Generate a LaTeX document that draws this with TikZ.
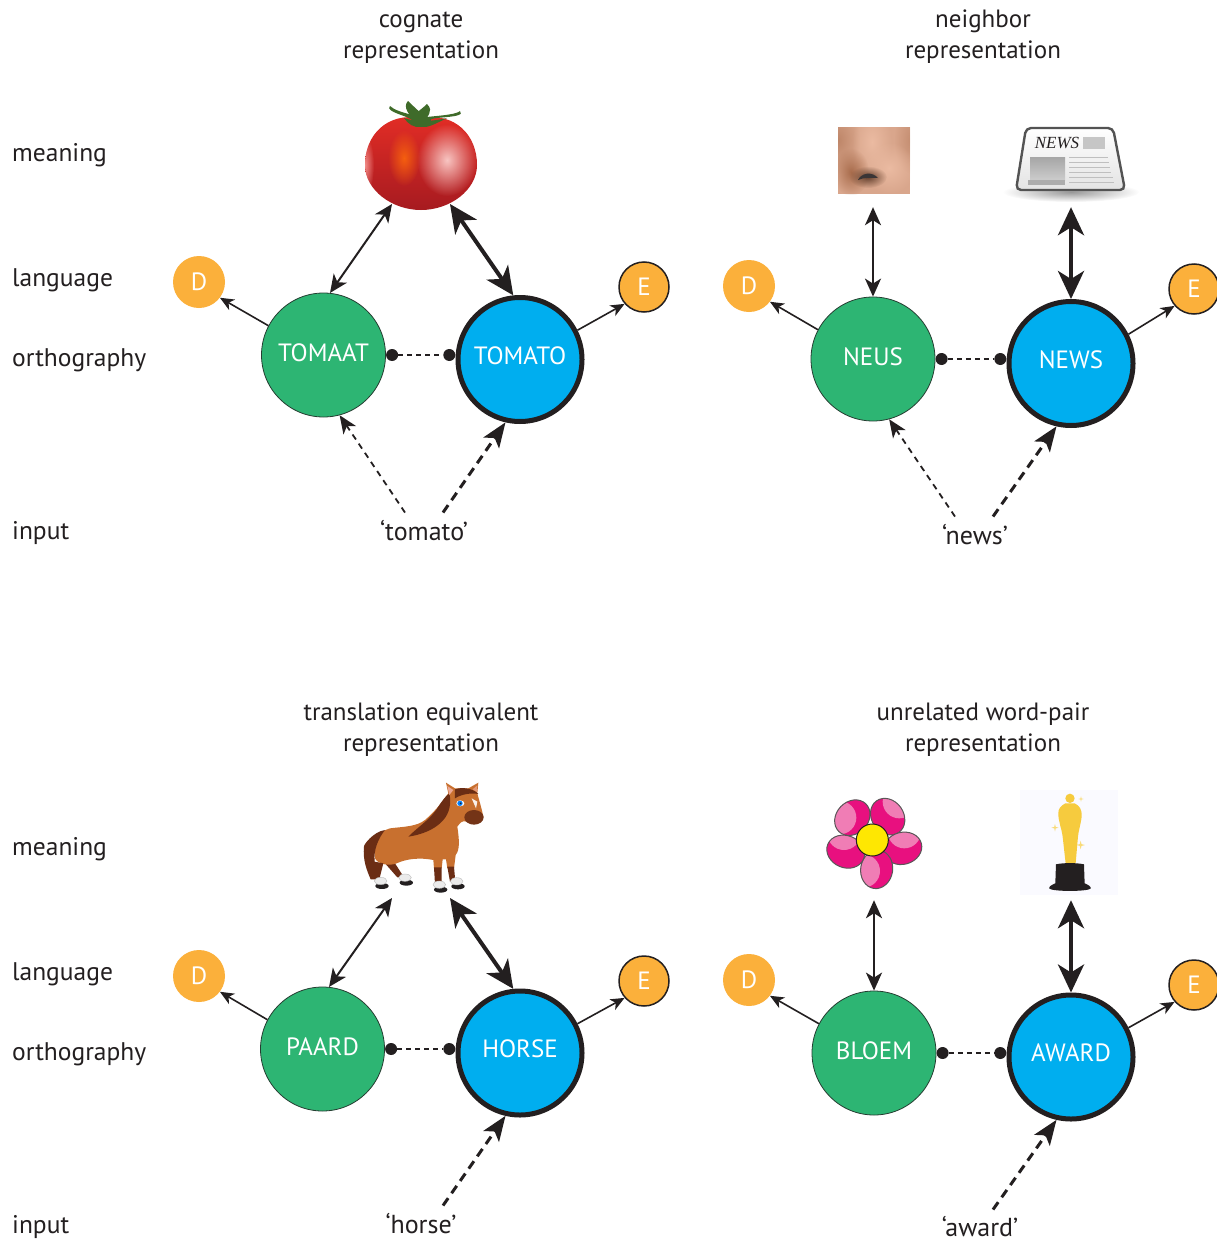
\documentclass[tikz,border=0pt]{standalone}
\usepackage{fontspec}
\setmainfont{PT Sans}
\newfontfamily\newsfont{Liberation Serif}
\usetikzlibrary{arrows.meta,shapes.geometric,calc,fadings}
\tikzfading[name=softblob,inner color=transparent!0,outer color=transparent!100]
\definecolor{wgreen}{HTML}{2DB573}
\definecolor{wblue}{HTML}{00AEEF}
\definecolor{worange}{HTML}{FBB03B}
\definecolor{ink}{HTML}{231F20}
\definecolor{tomred}{HTML}{E62E26}
\definecolor{tomdark}{HTML}{A51A20}
\definecolor{horsec}{HTML}{C8702F}
\definecolor{manec}{HTML}{6B2D14}
\definecolor{petald}{HTML}{E8107F}
\definecolor{petall}{HTML}{F07DB5}
\definecolor{gold}{HTML}{F6CB3E}
\definecolor{leafc}{HTML}{3F6B2A}
\definecolor{skinbg}{HTML}{D9A68C}
\definecolor{skinlo}{HTML}{A86C4C}
\definecolor{skinhi}{HTML}{EBBBA2}
\tikzset{
  lab/.style={font=\fontsize{25}{31}\selectfont,text=ink,inner sep=0pt},
  side/.style={lab,font=\fontsize{25.5}{31}\selectfont,anchor=west},
  title/.style={lab,align=center},
  word/.style={lab,font=\fontsize{26}{31}\selectfont},
  greennode/.style={circle,fill=wgreen,draw=ink!80!wgreen,line width=.8pt,minimum size=124pt,inner sep=0pt,text=white,text depth=5pt,font=\fontsize{25}{30}\selectfont},
  bluenode/.style={circle,fill=wblue,draw=ink,line width=5pt,minimum size=124pt,inner sep=0pt,text=white,text depth=8pt,font=\fontsize{25}{30}\selectfont},
  dnode/.style={circle,fill=worange,minimum size=52pt,inner sep=0pt,text=white,font=\fontsize{25}{30}\selectfont},
  enode/.style={circle,fill=worange,draw=ink,line width=1.5pt,minimum size=50pt,inner sep=0pt,text=white,font=\fontsize{25}{30}\selectfont},
  dotnode/.style={circle,fill=ink,minimum size=12pt,inner sep=0pt},
  blob/.style={ellipse,minimum width=112pt,minimum height=100pt,inner sep=0pt},
  imgbox/.style={rectangle,minimum width=74pt,minimum height=80pt,inner sep=0pt},
  twothin/.style={draw=ink,line width=2pt,{Stealth[length=18pt,width=16pt,inset=5pt]}-{Stealth[length=18pt,width=16pt,inset=5pt]}},
  twothick/.style={draw=ink,line width=4pt,{Stealth[length=28pt,width=26pt,inset=8pt]}-{Stealth[length=28pt,width=26pt,inset=8pt]}},
  langthin/.style={draw=ink,line width=1.6pt,-{Stealth[length=14pt,width=12pt,inset=4pt]}},
  linkdash/.style={draw=ink,line width=1.5pt,dash pattern=on 5pt off 4pt},
  inthin/.style={draw=ink,line width=1.8pt,dash pattern=on 6pt off 5pt,-{Stealth[length=18pt,width=15pt,inset=5pt]}},
  inthick/.style={draw=ink,line width=3pt,dash pattern=on 9pt off 6pt,-{Stealth[length=25pt,width=19pt,inset=6pt]}},
  soft/.style={path fading=softblob},
}
% flower petal: x, y, rotation, highlight x, highlight y
\newcommand{\flowerpetal}[5]{%
  \begin{scope}
    \clip[rotate around={#3:(#1,#2)}] (#1,#2) ellipse (58 and 48);
    \fill[petald] (#1-70,#2-70) rectangle (#1+70,#2+70);
    \fill[petall] (#1+#4,#2+#5) circle (50);
  \end{scope}
  \draw[ink!75,line width=1pt,rotate around={#3:(#1,#2)}] (#1,#2) ellipse (58 and 48);
}
% one pointed leaf of the tomato: tip x, tip y, half width
\newcommand{\tomleaf}[3]{%
  \fill[leafc] (421-#3,121) .. controls (410,116) and (#1-6,#2+6) .. (#1,#2)
     .. controls (#1+8,#2+8) and (425,116) .. (421+#3,121) -- cycle;
}
% four-pointed sparkle: x, y, size
\newcommand{\sparkle}[3]{%
  \fill[gold!70] (#1-#3,#2) -- (#1-#3*0.2,#2-#3*0.2) -- (#1,#2-#3) -- (#1+#3*0.2,#2-#3*0.2)
     -- (#1+#3,#2) -- (#1+#3*0.2,#2+#3*0.2) -- (#1,#2+#3) -- (#1-#3*0.2,#2+#3*0.2) -- cycle;
}
\begin{document}
\begin{tikzpicture}[x=1pt,y=-1pt]
\useasboundingbox[fill=white] (0,0) rectangle (1216,1239);

% side labels
\foreach \n/\t/\yy in {m1/meaning/155.5,l1/language/280.5,o1/orthography/360,i1/input/533,
                       m2/meaning/849.5,l2/language/974,o2/orthography/1054,i2/input/1227}
  \node[side] (\n) at (12,\yy) {\t};

% titles
\node[title] (t1) at (421,37.5) {cognate\\representation};
\node[title] (t2) at (983,37) {neighbor\\representation};
\node[title] (t3) at (421,730) {translation equivalent\\representation};
\node[title] (t4) at (983,730) {unrelated word-pair\\representation};

% ---------- tomato
\node[blob] (a-m) at (421,161) {};
\begin{scope}
  \clip (421,118) .. controls (455,112) and (477,135) .. (477,165)
    .. controls (477,190) and (450,210) .. (421,210)
    .. controls (392,210) and (365,190) .. (365,165)
    .. controls (365,135) and (387,112) .. (421,118) -- cycle;
  \shade[top color=tomred,middle color=tomred,bottom color=tomdark] (360,110) rectangle (480,212);
  \fill[white!72!tomred,soft] (447,160) ellipse (30 and 36);
  \fill[orange!60!tomred,soft] (404,158) ellipse (16 and 28);
  \fill[white!45!tomred,soft] (365,165) ellipse (9 and 30);
\end{scope}
\tomleaf{390}{106}{8}
\tomleaf{408}{101}{6}
\tomleaf{427}{104}{6}
\tomleaf{460}{111}{10}
\fill[leafc] (404,118) .. controls (415,122) and (430,122) .. (447,118)
  .. controls (435,124) and (428,128) .. (421,127) .. controls (414,128) and (408,124) .. (404,118) -- cycle;

% ---------- nose
\node[imgbox] (b-m) at (873,167) {};
\begin{scope}
  \clip (838,127) rectangle (910,194);
  \fill[skinbg] (838,127) rectangle (910,194);
  \fill[skinlo,opacity=.55,soft] (838,140) ellipse (22 and 34);
  \fill[skinlo,opacity=.45,soft] (912,140) ellipse (18 and 34);
  \fill[skinhi,soft] (872,142) ellipse (20 and 36);
  \fill[skinhi,soft] (889,168) ellipse (26 and 26);
  \fill[skinlo,soft] (851,172) ellipse (18 and 24);
  \fill[skinlo!60!black,soft] (868,177) ellipse (19 and 11);
  \fill[ink!90] (858,180) .. controls (861,173) and (872,171) .. (878,178)
    .. controls (872,178) and (864,177) .. (858,180) -- cycle;
\end{scope}

% ---------- newspaper
\node[imgbox] (b-n) at (1071,167) {};
\fill[gray!80,soft] (1071,192) ellipse (68 and 10);
\draw[gray!65!black,line width=2.4pt,rounded corners=5pt,top color=white,bottom color=gray!22]
  (1026,128) -- (1113,128) -- (1125,190) -- (1016,190) -- cycle;
\node[inner sep=0pt,text=ink] (b-nt) at (1057,143) {\newsfont\itshape\fontsize{17}{18}\selectfont NEWS};
\fill[gray!45] (1083,137) rectangle (1105,149);
\shade[top color=gray!70,bottom color=gray!40] (1030,157) rectangle (1065,180);
\fill[gray!65] (1028,180) rectangle (1065,185);
\foreach \yy/\xa/\xb in {157/1069/1108,162/1069/1109,167/1069/1110,172/1069/1111,177/1069/1113,182/1069/1114}
  \draw[gray!50,line width=1pt] (\xa,\yy) -- (\xb,\yy);

% ---------- horse
\node[blob] (c-m) at (421,855) {};
\begin{scope}[shift={(340,770)},x=0.3333pt,y=-0.3333pt]
  % far hind leg
  \fill[manec] (135,280) -- (165,280) -- (192,322) -- (172,322) -- cycle;
  % body
  \fill[horsec] (105,265) .. controls (100,210) and (115,185) .. (150,175)
     .. controls (190,170) and (230,170) .. (255,150)
     .. controls (290,120) and (310,90) .. (325,70) -- (318,38) -- (345,55) -- (385,55) -- (415,38) -- (412,70)
     .. controls (420,100) and (425,115) .. (430,140)
     .. controls (430,155) and (400,165) .. (380,155)
     .. controls (365,150) and (360,160) .. (352,170)
     .. controls (358,210) and (360,240) .. (347,255)
     -- (342,295) -- (322,295) -- (318,268) -- (308,268) -- (305,295) -- (282,295) -- (280,270)
     .. controls (240,262) and (200,266) .. (170,280)
     .. controls (150,288) and (115,285) .. (105,265) -- cycle;
  % tail and near hind leg
  \fill[manec] (135,180) .. controls (100,185) and (70,225) .. (72,230)
     .. controls (68,270) and (80,300) .. (92,328) -- (118,328) -- (130,280)
     -- (104,275) .. controls (100,240) and (115,205) .. (135,180) -- cycle;
  % mane and forelock
  \fill[manec] (205,200) .. controls (240,165) and (270,150) .. (295,110)
     .. controls (305,95) and (315,80) .. (328,70) .. controls (335,100) and (328,130) .. (310,150)
     .. controls (285,180) and (240,195) .. (205,200) -- cycle;
  \fill[manec] (345,58) .. controls (365,50) and (400,55) .. (415,72)
     .. controls (395,68) and (365,72) .. (345,85) -- cycle;
  % ears
  \fill[pink!70!horsec] (322,48) -- (340,60) -- (328,75) -- cycle;
  \fill[pink!50!horsec] (412,46) -- (398,58) -- (411,66) -- cycle;
  % socks
  \fill[manec] (282,292) -- (305,292) -- (305,342) -- (285,342) -- cycle;
  \fill[manec] (322,290) -- (342,290) -- (346,335) -- (330,335) -- cycle;
  % hooves
  \foreach \hx/\hy in {122/333,195/323,298/344,350/334}{
    \fill[ink] (\hx+4,\hy+15) ellipse (20 and 9);
    \fill[white!92!black] (\hx,\hy) ellipse (19 and 11);
    \draw[gray!55,line width=.4pt] (\hx,\hy) ellipse (19 and 11);
  }
  % face
  \fill[white!90!horsec] (395,85) -- (412,95) -- (408,115) -- cycle;
  \fill[manec!90!horsec] (402,142) ellipse (29 and 22);
  \fill[white] (361,100) ellipse (12 and 9);
  \fill[blue!50!cyan] (360,100) ellipse (8 and 8);
  \fill[ink] (362,100) circle (3);
\end{scope}

% ---------- flower
\node[imgbox] (d-m) at (874,860) {};
\begin{scope}[shift={(810,780)},x=0.3333pt,y=-0.3333pt]
  \flowerpetal{127}{113}{46}{-38}{0}
  \flowerpetal{233}{110}{-55}{35}{-45}
  \flowerpetal{278}{205}{15}{5}{-50}
  \flowerpetal{200}{268}{82}{-40}{5}
  \flowerpetal{107}{215}{-23}{-5}{-55}
  \fill[yellow!90!orange] (187,180) circle (48);
  \draw[ink,line width=1pt] (187,180) circle (48);
\end{scope}

% ---------- award
\node[imgbox] (d-n) at (1071,860) {};
\begin{scope}[shift={(810,780)},x=0.3333pt,y=-0.3333pt]
  \fill[blue!2] (630,30) rectangle (925,345);
  \sparkle{735}{143}{11}
  \sparkle{813}{57}{8}
  \sparkle{812}{195}{13}
  \fill[gold] (780,55) circle (14);
  \fill[gold] (766,70) -- (794,70) .. controls (808,78) and (816,85) .. (815,110)
     .. controls (812,135) and (806,150) .. (804,170) -- (797,250) -- (767,250) -- (758,170)
     .. controls (755,145) and (745,125) .. (745,100) .. controls (745,85) and (752,78) .. (766,70) -- cycle;
  \fill[ink] (738,253) .. controls (760,248) and (800,248) .. (822,253) -- (824,310) .. controls (835,315) and (845,320) .. (842,326)
     .. controls (830,335) and (730,335) .. (718,326) .. controls (715,320) and (725,315) .. (736,310) -- cycle;
\end{scope}

% ---------- word nodes
\node[greennode] (a-g) at (323.5,355) {TOMAAT};
\node[bluenode]  (a-b) at (520,359.5) {TOMATO};
\node[dnode]     (a-d) at (199,282) {D};
\node[enode]     (a-e) at (644,287) {E};
\node[greennode] (b-g) at (873,359) {NEUS};
\node[bluenode]  (b-b) at (1071,363.5) {NEWS};
\node[dnode]     (b-d) at (749,286) {D};
\node[enode]     (b-e) at (1194,289) {E};
\node[greennode] (c-g) at (322.5,1049) {PAARD};
\node[bluenode]  (c-b) at (520,1053) {HORSE};
\node[dnode]     (c-d) at (199,976) {D};
\node[enode]     (c-e) at (644,981) {E};
\node[greennode] (d-g) at (874,1053) {BLOEM};
\node[bluenode]  (d-b) at (1071,1057) {AWARD};
\node[dnode]     (d-d) at (749,980) {D};
\node[enode]     (d-e) at (1194,985) {E};

% input words
\node[word] (a-i) at (424,531) {‘tomato’};
\node[word] (b-i) at (975,535) {‘news’};
\node[word] (c-i) at (421,1224) {‘horse’};
\node[word] (d-i) at (980,1227) {‘award’};

% connectors shared by all panels
\foreach \p in {a,b,c,d}{
  \node[dotnode,anchor=west] (\p-p) at (\p-g.east) {};
  \node[dotnode,anchor=east] (\p-q) at (\p-b.west |- \p-p) {};
  \draw[linkdash] (\p-p) -- (\p-q);
  \draw[langthin] (\p-g.152) -- (\p-d.-37);
  \draw[langthin] (\p-b.27) -- (\p-e.221);
}

% meaning links
\foreach \p in {a,c}{
  \draw[twothin] (\p-m.236) -- (\p-g.84);
  \draw[twothick] (\p-m.304) -- (\p-b.96);
}
\foreach \p in {b,d}{
  \draw[twothin] (\p-m.south) -- (\p-g.north);
  \draw[twothick] (\p-n.south) -- (\p-b.north);
}

% input links
\draw[inthin]  ([shift={(-19,-8)}]a-i.north) -- (a-g.285);
\draw[inthick] ([shift={(19,-8)}]a-i.north) -- (a-b.257);
\draw[inthin]  ([shift={(-20,-8)}]b-i.north) -- (b-g.285);
\draw[inthick] ([shift={(18,-8)}]b-i.north) -- (b-b.257);
\draw[inthick] ([shift={(22,-8)}]c-i.north) -- (c-b.257);
\draw[inthick] ([shift={(13,-7)}]d-i.north) -- (d-b.257);
\end{tikzpicture}
\end{document}
